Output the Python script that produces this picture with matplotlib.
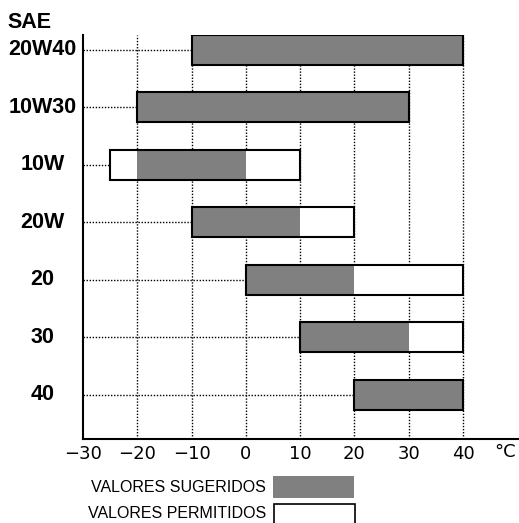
import matplotlib.pyplot as plt
from matplotlib.patches import Rectangle

# SAE grades (top to bottom) and temperature ranges in °C
grades = ["20W40", "10W30", "10W", "20W", "20", "30", "40"]
sug_lo = [-10, -20, -20, -10, 0, 10, 20]
sug_hi = [40, 30, 0, 10, 20, 30, 40]
perm_lo = [-10, -20, -25, -10, 0, 10, 20]
perm_hi = [40, 30, 10, 20, 40, 40, 40]
xticks = [-30, -20, -10, 0, 10, 20, 30, 40]
xtick_labels = ["−30", "−20", "−10", "0", "10", "20", "30", "40"]

GRAY = "#808080"
BAR_H = 0.52
narrow = ["Liberation Sans Narrow", "DejaVu Sans"]

fig = plt.figure(figsize=(5.19, 5.23), dpi=100)
ax = fig.add_axes([83 / 519, 1 - 439 / 523, 1 - 83 / 519, (439 - 35) / 523])

ypos = list(range(len(grades)))

# vertical dotted grid
for xv in xticks[1:]:
    ax.axvline(xv, color="black", ls=(0, (1, 1.2)), lw=1.0, zorder=1)

# horizontal dotted leaders from the axis to the bar start
for y, lo in zip(ypos, perm_lo):
    ax.hlines(y, -30, lo, color="black", ls=(0, (1, 1.2)), lw=1.0, zorder=1)

# permitted (white) then suggested (gray) bars
ax.barh(ypos, [h - l for l, h in zip(perm_lo, perm_hi)], left=perm_lo, height=BAR_H,
        color="white", edgecolor="none", zorder=2)
ax.barh(ypos, [h - l for l, h in zip(sug_lo, sug_hi)], left=sug_lo, height=BAR_H,
        color=GRAY, edgecolor="none", zorder=3)
ax.barh(ypos, [h - l for l, h in zip(perm_lo, perm_hi)], left=perm_lo, height=BAR_H,
        color="none", edgecolor="black", lw=1.5, zorder=4)

ax.set_xlim(-30, 50.3)
ax.set_ylim(6.77, -0.26)

for s in ["top", "right"]:
    ax.spines[s].set_visible(False)
ax.spines["left"].set_linewidth(1.5)
ax.spines["bottom"].set_linewidth(1.5)

ax.set_yticks([])
ax.set_xticks(xticks)
ax.set_xticklabels(xtick_labels, family=narrow, fontsize=13)
ax.tick_params(axis="x", length=0, pad=4)

# row labels
for y, g in zip(ypos, grades):
    ax.text(-37.5, y, g, ha="center", va="center", fontsize=15.5, fontweight="bold",
            family="Liberation Sans")

fig.text(29 / 519, 1 - 22 / 523, "SAE", ha="center", va="center", fontsize=15.5,
         fontweight="bold", family="Liberation Sans")
fig.text(505 / 519, 1 - 452 / 523, "°C", ha="center", va="center", fontsize=13,
         family=narrow)

# legend
fig.text(266 / 519, 1 - 487 / 523, "VALORES SUGERIDOS", ha="right", va="center",
         fontsize=11.5, family="Liberation Sans")
fig.text(266 / 519, 1 - 514 / 523, "VALORES PERMITIDOS", ha="right", va="center",
         fontsize=11.5, family="Liberation Sans")
fig.patches.append(Rectangle((273 / 519, 1 - 498 / 523), 81 / 519, 22 / 523,
                             transform=fig.transFigure, facecolor=GRAY,
                             edgecolor="none"))
fig.patches.append(Rectangle((274 / 519, 1 - 530 / 523), 81 / 519, 26 / 523,
                             transform=fig.transFigure, facecolor="white",
                             edgecolor="black", lw=1.2))

fig.savefig("out.png", dpi=100)
